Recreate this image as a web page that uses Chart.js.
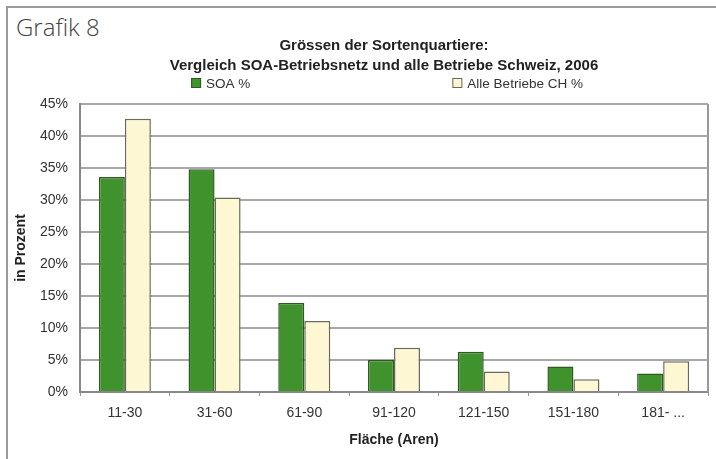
<!DOCTYPE html>
<html>
<head>
<meta charset="utf-8">
<script src="https://cdn.jsdelivr.net/npm/chart.js@4/dist/chart.umd.min.js"></script>
<style>
  body { margin:0; background:#fff; }
  #wrap { position:relative; width:716px; height:459px; overflow:hidden; }
  #frame { position:absolute; left:6px; top:6px; right:-10px; bottom:-10px;
           border-left:2px solid #9a9a9a; border-top:2px solid #9a9a9a; }
  #grafik { position:absolute; left:16px; top:10px; font-family:"Open Sans"; font-weight:300;
            font-size:24px; color:#444; }
  canvas { position:absolute; left:0; top:0; }
</style>
</head>
<body>
<div id="wrap">
  <div id="frame"></div>
  <div id="grafik">Grafik 8</div>
  <canvas id="chart" width="716" height="459"></canvas>
</div>
<script>
const categories = ["11-30", "31-60", "61-90", "91-120", "121-150", "151-180", "181- ..."]
const soaValues = [33.6, 34.8, 13.9, 5.0, 6.3, 4.0, 2.9]
const alleValues = [42.7, 30.4, 11.1, 6.9, 3.2, 2.0, 4.8]
const seriesNames = ["SOA %", "Alle Betriebe CH %"]
const titleLines = ["Grössen der Sortenquartiere:", "Vergleich SOA-Betriebsnetz und alle Betriebe Schweiz, 2006"]

const FONT = "'Liberation Sans', Arial, sans-serif"

// titles, legend and the right edge of the plot
const extras = {
  id: "extras",
  afterDraw(chart) {
    const ctx = chart.ctx
    const area = chart.chartArea
    ctx.save()
    ctx.fillStyle = "#222"
    ctx.font = "bold 15px " + FONT
    ctx.textAlign = "center"
    ctx.textBaseline = "middle"
    ctx.fillText(titleLines[0], 384, 46)
    ctx.fillText(titleLines[1], 384, 66)

    // legend
    ctx.font = "13.5px " + FONT
    ctx.textAlign = "left"
    const ds = chart.data.datasets
    const w0 = 15 + ctx.measureText(ds[0].label).width
    const w1 = 15 + ctx.measureText(ds[1].label).width
    const gap = 202
    let x = 387 - (w0 + gap + w1) / 2
    ds.forEach((d, i) => {
      ctx.fillStyle = d.backgroundColor
      ctx.strokeStyle = d.borderColor
      ctx.lineWidth = 1
      ctx.fillRect(x, 78, 10, 10)
      ctx.strokeRect(x + 0.5, 78.5, 9, 9)
      ctx.fillStyle = "#333"
      ctx.fillText(d.label, x + 15, 84)
      x += (i === 0 ? w0 : w1) + gap
    })

    ctx.strokeStyle = "#999"
    ctx.lineWidth = 2
    ctx.beginPath()
    ctx.moveTo(area.right, area.top)
    ctx.lineTo(area.right, area.bottom)
    ctx.stroke()
    ctx.restore()
  }
}

new Chart(document.getElementById("chart"), {
  type: "bar",
  data: {
    labels: categories,
    datasets: [
      { label: seriesNames[0], data: soaValues, backgroundColor: "#3f922c", borderColor: "#2f5a22",
        borderWidth: 1.5, barPercentage: 1.0, categoryPercentage: 0.58 },
      { label: seriesNames[1], data: alleValues, backgroundColor: "#fdf7d3", borderColor: "#6a6a5c",
        borderWidth: 1.5, barPercentage: 1.0, categoryPercentage: 0.58 }
    ]
  },
  options: {
    responsive: false,
    animation: false,
    layout: { padding: { top: 104, left: 8, right: 8, bottom: 0 } },
    plugins: { legend: { display: false }, title: { display: false }, tooltip: { enabled: false } },
    scales: {
      x: {
        grid: { display: true, drawOnChartArea: false, drawTicks: true, tickLength: 4, color: "#999", offset: true },
        border: { display: true, color: "#888", width: 2 },
        ticks: { color: "#333", font: { family: FONT, size: 14 }, padding: 9, maxRotation: 0 },
        title: { display: true, text: "Fläche (Aren)", color: "#222",
                 font: { family: FONT, size: 14, weight: "bold" }, padding: { top: 2, bottom: 10 } },
        afterFit: s => { s.height = 67 }
      },
      y: {
        min: 0, max: 45,
        ticks: { stepSize: 5, color: "#333", font: { family: FONT, size: 14 }, padding: 12,
                 callback: v => v + "%" },
        grid: { color: "#a8a8a8", lineWidth: 2, drawTicks: false },
        border: { display: true, color: "#888", width: 2 },
        title: { display: true, text: "in Prozent", color: "#222",
                 font: { family: FONT, size: 14, weight: "bold" }, padding: { top: 5, bottom: 4 } },
        afterFit: s => { s.width = 72 }
      }
    }
  },
  plugins: [extras]
})
</script>
</body>
</html>
